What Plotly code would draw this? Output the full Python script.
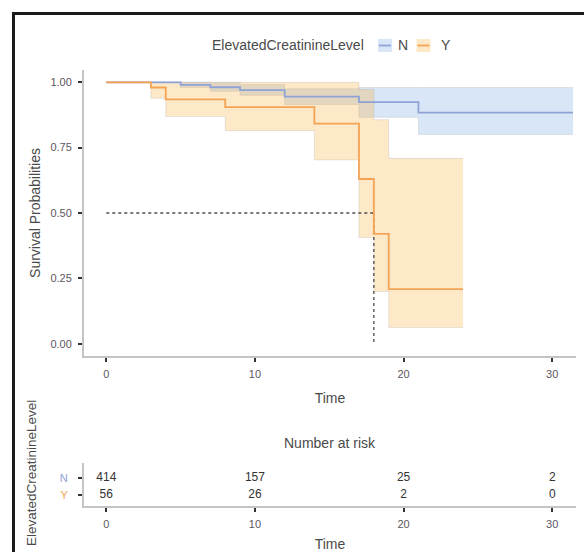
import plotly.graph_objects as go

# ---------------- data ----------------
n_time  = [0, 5, 7, 9, 12, 17, 21, 31.4]
n_surv  = [1.0, 0.990, 0.981, 0.970, 0.945, 0.924, 0.884, 0.884]
n_upper = [1.0, 1.0, 0.998, 0.992, 0.975, 0.980, 0.980, 0.980]
n_lower = [1.0, 0.980, 0.966, 0.950, 0.915, 0.866, 0.800, 0.800]

y_time  = [0, 3, 4, 8, 14, 17, 18, 19, 24]
y_surv  = [1.0, 0.980, 0.935, 0.905, 0.842, 0.630, 0.420, 0.209, 0.209]
y_upper = [1.0, 1.0, 1.0, 1.0, 1.0, 0.973, 0.857, 0.709, 0.709]
y_lower = [1.0, 0.939, 0.869, 0.815, 0.703, 0.406, 0.200, 0.062, 0.062]

median_time = 18
median_surv = 0.5

risk_times = [0, 10, 20, 30]
risk_n = [414, 157, 25, 2]
risk_y = [56, 26, 2, 0]

y_ticks = [0.0, 0.25, 0.5, 0.75, 1.0]
y_ticklabels = ["0.00", "0.25", "0.50", "0.75", "1.00"]
x_ticks = [0, 10, 20, 30]

groups = ["N", "Y"]
legend_title = "ElevatedCreatinineLevel"

# ---------------- style ----------------
W, H = 584, 552
BLUE = "#8fa3d6"
ORANGE = "#f4a454"
BLUE_FILL = "rgba(120,165,225,0.28)"
ORANGE_FILL = "rgba(250,180,70,0.30)"
EDGE = "rgba(170,170,170,0.35)"
AXIS_GRAY = "#c4c4c4"
TXT = "#4a4a4a"
FONT = "Liberation Sans, Arial, sans-serif"

def px_x(p):
    return p / W

def px_y(p):
    return 1 - p / H

fig = go.Figure()

# confidence bands
for t, lo, up, fill in [(n_time, n_lower, n_upper, BLUE_FILL),
                        (y_time, y_lower, y_upper, ORANGE_FILL)]:
    fig.add_trace(go.Scatter(x=t, y=lo, mode="lines", line=dict(shape="hv", color=EDGE, width=0.8),
                             showlegend=False, hoverinfo="skip"))
    fig.add_trace(go.Scatter(x=t, y=up, mode="lines", line=dict(shape="hv", color=EDGE, width=0.8),
                             fill="tonexty", fillcolor=fill, showlegend=False, hoverinfo="skip"))

# median lines
fig.add_trace(go.Scatter(x=[0, median_time], y=[median_surv, median_surv], mode="lines",
                         line=dict(color="#4d4d4d", width=1.3, dash="dot"), showlegend=False))
fig.add_trace(go.Scatter(x=[median_time, median_time], y=[median_surv, 0], mode="lines",
                         line=dict(color="#4d4d4d", width=1.3, dash="dot"), showlegend=False))

# survival curves
fig.add_trace(go.Scatter(x=n_time, y=n_surv, mode="lines", name="N",
                         line=dict(shape="hv", color=BLUE, width=1.8), showlegend=False))
fig.add_trace(go.Scatter(x=y_time, y=y_surv, mode="lines", name="Y",
                         line=dict(shape="hv", color=ORANGE, width=1.8), showlegend=False))

# risk table
fig.add_trace(go.Scatter(x=risk_times, y=[1] * len(risk_times), mode="text",
                         text=[str(v) for v in risk_n], textfont=dict(family=FONT, size=12, color="#333333"),
                         xaxis="x2", yaxis="y2", showlegend=False, hoverinfo="skip"))
fig.add_trace(go.Scatter(x=risk_times, y=[0] * len(risk_times), mode="text",
                         text=[str(v) for v in risk_y], textfont=dict(family=FONT, size=12, color="#333333"),
                         xaxis="x2", yaxis="y2", showlegend=False, hoverinfo="skip"))

x_dom = [px_x(84), px_x(576)]
axis_common = dict(showgrid=False, zeroline=False, showline=True, linecolor=AXIS_GRAY, linewidth=2,
                   ticks="outside", ticklen=4, tickwidth=1.5, tickcolor="#333333",
                   tickfont=dict(family=FONT, size=11, color="#5e5660"))

fig.update_layout(
    width=W, height=H, margin=dict(l=0, r=0, t=0, b=0),
    plot_bgcolor="white", paper_bgcolor="white",
    font=dict(family=FONT, color=TXT),
    xaxis=dict(domain=x_dom, range=[-1.5, 31.6], tickvals=x_ticks, anchor="y", ticklabelstandoff=3,
               title=dict(text="Time", font=dict(size=14, color=TXT), standoff=14), **axis_common),
    yaxis=dict(domain=[px_y(356), px_y(70)], range=[-0.047, 1.047], tickvals=y_ticks,
               ticktext=y_ticklabels, anchor="x", ticklabelstandoff=4,
               title=dict(text="Survival Probabilities", font=dict(size=14, color=TXT), standoff=6),
               **axis_common),
    xaxis2=dict(domain=x_dom, range=[-1.5, 31.6], tickvals=x_ticks, anchor="y2", ticklabelstandoff=3,
                title=dict(text="Time", font=dict(size=14, color=TXT), standoff=12), **axis_common),
    yaxis2=dict(domain=[px_y(506), px_y(463)], range=[-0.67, 1.9], tickvals=[1, 0],
                ticktext=[f'<span style="color:{BLUE}">{groups[0]}</span>',
                          f'<span style="color:{ORANGE}">{groups[1]}</span>'],
                anchor="x2", ticklabelstandoff=8, **axis_common),
    showlegend=False,
)

# risk table title
fig.add_annotation(text="Number at risk", x=(x_dom[0] + x_dom[1]) / 2, y=px_y(443), xref="paper", yref="paper",
                   showarrow=False, font=dict(family=FONT, size=14, color=TXT), xanchor="center", yanchor="middle")
# risk table strata title (rotated)
fig.add_annotation(text=legend_title, x=px_x(31), y=px_y(473), xref="paper", yref="paper",
                   showarrow=False, textangle=-90, font=dict(family=FONT, size=13.5, color=TXT),
                   xanchor="center", yanchor="middle")

# legend (manual, ggplot style)
fig.add_annotation(text=legend_title, x=px_x(366), y=px_y(45.5), xref="paper", yref="paper",
                   showarrow=False, font=dict(family=FONT, size=14, color=TXT), xanchor="right", yanchor="middle")
for (x0, x1, lbl_x, lbl, col, fillc) in [(378, 392, 402.5, groups[0], BLUE, BLUE_FILL),
                                          (416.5, 430.5, 445.5, groups[1], ORANGE, ORANGE_FILL)]:
    fig.add_shape(type="rect", xref="paper", yref="paper", x0=px_x(x0), x1=px_x(x1),
                  y0=px_y(52), y1=px_y(39), fillcolor=fillc, line=dict(color="rgba(0,0,0,0)", width=0))
    fig.add_shape(type="line", xref="paper", yref="paper", x0=px_x(x0 + 1), x1=px_x(x1 - 1),
                  y0=px_y(45.5), y1=px_y(45.5), line=dict(color=col, width=1.8))
    fig.add_annotation(text=lbl, x=px_x(lbl_x), y=px_y(45.5), xref="paper", yref="paper",
                       showarrow=False, font=dict(family=FONT, size=14, color=TXT),
                       xanchor="center", yanchor="middle")

# outer frame (left and top edges)
fig.add_shape(type="line", xref="paper", yref="paper", x0=px_x(13.5), x1=px_x(13.5), y0=0, y1=px_y(12),
              line=dict(color="#1a1a1a", width=3))
fig.add_shape(type="line", xref="paper", yref="paper", x0=px_x(12), x1=1, y0=px_y(13.5), y1=px_y(13.5),
              line=dict(color="#1a1a1a", width=3))

fig.write_html("out.html")
